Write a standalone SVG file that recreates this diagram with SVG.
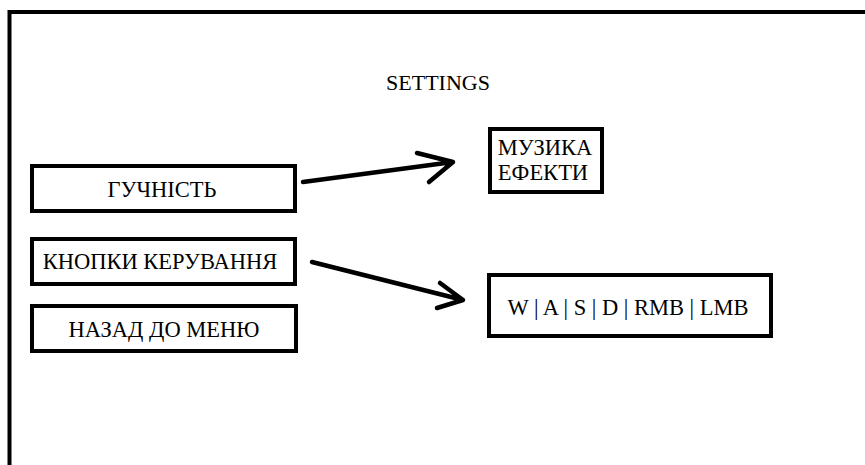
<svg xmlns="http://www.w3.org/2000/svg" width="865" height="465" viewBox="0 0 865 465">
<style>
.box{fill:#fff;stroke:#000;stroke-width:4}
.t{font-family:"Liberation Serif","Times New Roman",serif;font-size:22.5px;fill:#000;text-anchor:middle}
.c{fill:none;stroke:#000;stroke-width:4.5;stroke-linecap:round;stroke-linejoin:round}
</style>
<rect width="865" height="465" fill="#fff"/>
<path d="M9.5,470 V12 H870" fill="none" stroke="#000" stroke-width="4"/>
<text class="t" x="438" y="90" style="font-size:22px">SETTINGS</text>
<g id="volume">
<rect class="box" x="32" y="166" width="263" height="45"/>
<text class="t" x="162" y="197">ГУЧНІСТЬ</text>
</g>
<g id="controls">
<rect class="box" x="32" y="239" width="263" height="45"/>
<text class="t" x="160" y="269">КНОПКИ КЕРУВАННЯ</text>
</g>
<g id="back">
<rect class="box" x="32" y="306" width="264" height="45"/>
<text class="t" x="164" y="337">НАЗАД ДО МЕНЮ</text>
</g>
<g id="sound">
<rect class="box" x="490" y="129" width="112" height="63"/>
<text class="t" x="545" y="155">МУЗИКА</text>
<text class="t" x="543" y="180">ЕФЕКТИ</text>
</g>
<g id="keys">
<rect class="box" x="489" y="275" width="282" height="61"/>
<text class="t" x="628" y="315">W | A | S | D | RMB | LMB</text>
</g>
<g id="connectors">
<path class="c" d="M303,182 L453,162 M417,153 L453,162 L429,182"/>
<path class="c" d="M312,262 L463,300 M440,283 L463,300 L437,308"/>
</g>
</svg>
